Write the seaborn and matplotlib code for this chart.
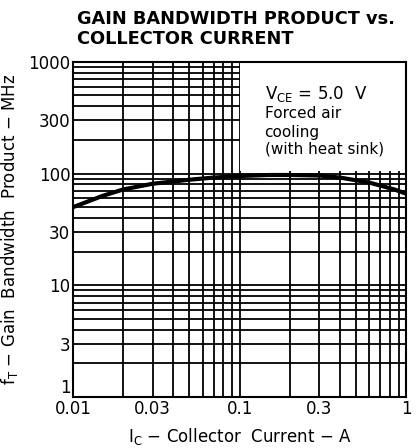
import matplotlib
matplotlib.use("Agg")
import matplotlib.pyplot as plt
import matplotlib.patches as mpatches
import seaborn as sns
import pandas as pd

# curve
ic_amps = [0.01, 0.015, 0.02, 0.03, 0.05, 0.07, 0.1, 0.15, 0.2, 0.3, 0.4, 0.5, 0.6, 0.7, 0.85, 1.0]
ft_mhz = [50, 63, 72, 81, 88, 92, 95, 97, 97, 96, 92, 87, 83, 78, 72, 66]

x_ticks = [0.01, 0.03, 0.1, 0.3, 1]
x_labels = ["0.01", "0.03", "0.1", "0.3", "1"]
y_ticks = [1, 3, 10, 30, 100, 300, 1000]
y_labels = ["1", "3", "10", "30", "100", "300", "1000"]

df = pd.DataFrame({"ic": ic_amps, "ft": ft_mhz})

sns.set_style("white")
plt.rcParams["font.family"] = ["DejaVu Sans"]
plt.rcParams["text.color"] = "black"
plt.rcParams["axes.labelcolor"] = "black"
plt.rcParams["xtick.color"] = "black"
plt.rcParams["ytick.color"] = "black"

fig = plt.figure(figsize=(4.2, 4.48), dpi=100)
ax = fig.add_axes([0.174, 0.114, 0.793, 0.748])

ax.set_xscale("log")
ax.set_yscale("log")
ax.set_xlim(0.01, 1)
ax.set_ylim(1, 1000)

ax.set_axisbelow(True)
ax.grid(True, which="both", color="black", linewidth=1.3)

# white note box over the upper-right grid
box = mpatches.Rectangle((0.1, 105), 0.9, 895, facecolor="white",
                         edgecolor="none", zorder=1.5)
ax.add_patch(box)

sns.lineplot(data=df, x="ic", y="ft", ax=ax, color="black", linewidth=3, zorder=3)

ax.set_xticks(x_ticks)
ax.set_xticklabels(x_labels)
ax.set_yticks(y_ticks)
ax.set_yticklabels(y_labels)
ax.tick_params(which="both", length=0, labelsize=12, pad=2)
ax.xaxis.set_minor_formatter(plt.NullFormatter())
ax.yaxis.set_minor_formatter(plt.NullFormatter())
ax.get_yticklabels()[0].set_va("bottom")

for s in ax.spines.values():
    s.set_color("black")
    s.set_linewidth(1.5)

ax.set_xlabel("I$_\\mathregular{C}$ − Collector  Current − A", fontsize=12, labelpad=6)
ax.set_ylabel("f$_\\mathregular{T}$ − Gain  Bandwidth  Product − MHz", fontsize=12, labelpad=6)

note = dict(transform=ax.transAxes, fontsize=11, ha="left", va="center")
ax.text(0.575, 0.905, "V$_\\mathregular{CE}$ = 5.0  V", fontsize=12, transform=ax.transAxes,
        ha="left", va="center")
ax.text(0.575, 0.845, "Forced air", **note)
ax.text(0.575, 0.79, "cooling", **note)
ax.text(0.575, 0.74, "(with heat sink)", **note)

fig.text(0.183, 0.957, "GAIN BANDWIDTH PRODUCT vs.", fontsize=12.8, fontweight="bold",
         ha="left", va="center")
fig.text(0.183, 0.913, "COLLECTOR CURRENT", fontsize=12.8, fontweight="bold",
         ha="left", va="center")

fig.savefig("out.png", dpi=100)
